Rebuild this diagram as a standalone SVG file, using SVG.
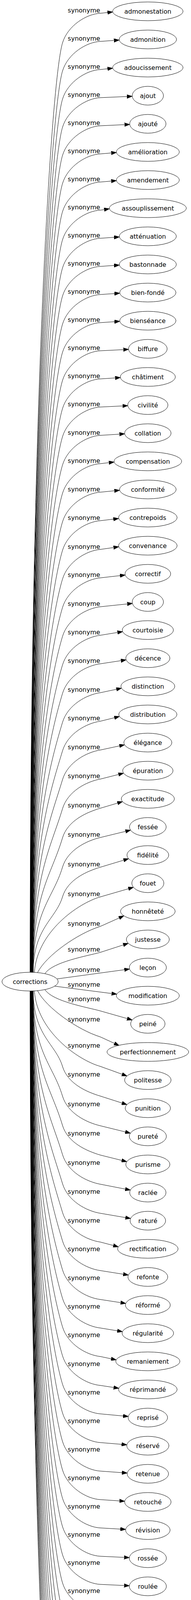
<svg xmlns="http://www.w3.org/2000/svg" width="489" height="5027" viewBox="0 0 489 5027">
<style>
text{font-family:"DejaVu Sans","Verdana",sans-serif;font-size:16px;fill:#000;text-anchor:middle}
.node ellipse{fill:#fff;stroke:#000;stroke-width:1}
.e path{fill:none;stroke:#000;stroke-width:1;marker-end:url(#a)}
</style>
<defs>
<marker id="a" markerWidth="15" markerHeight="11" refX="0" refY="4.67" orient="auto" markerUnits="userSpaceOnUse"><path d="M0,0 L13.3,4.67 L0,9.33 Z" fill="#000" stroke="#000" stroke-width="1"/></marker>
</defs>
<rect width="489" height="5027" fill="#fff"/>
<g id="connectors">
<g id="edges-top" class="e">
<path d="M77,2489 C77,1085 130,210 160,110 C173.5,65 222,35.5 257,34 L275.3,32"/>
<path d="M77.3,2489 C77.3,1128 130,282 160,182 C173.5,137 222,107.5 257,106 L291.7,103.5"/>
<path d="M77.5,2489 C77.5,1170 130,354 160,254 C173.5,209 222,179.5 257,178 L275.3,176"/>
<path d="M77.8,2489 C77.8,1213 130,426 160,326 C173.5,281 222,251.5 257,250 L325.2,247.1"/>
<path d="M78.1,2489 C78.1,1255 130,498 160,398 C173.5,353 222,323.5 257,322 L318.7,319.1"/>
<path d="M78.4,2489 C78.4,1298 130,570 160,470 C173.5,425 222,395.5 257,394 L284.7,391.6"/>
<path d="M78.6,2489 C78.6,1340 130,642 160,542 C173.5,497 222,467.5 257,466 L284.7,463.6"/>
<path d="M78.9,2489 C78.9,1383 130,714 160,614 C173.5,569 222,539.5 257,538 L266.8,536.5"/>
<path d="M79.2,2489 C79.2,1425 130,786 160,686 C173.5,641 222,611.5 257,610 L292.2,607.5"/>
<path d="M79.4,2489 C79.4,1468 130,858 160,758 C173.5,713 222,683.5 257,682 L292.2,679.5"/>
<path d="M79.7,2489 C79.7,1510 130,930 160,830 C173.5,785 222,755.5 257,754 L293.2,751.5"/>
<path d="M80,2489 C80,1553 130,1002 160,902 C173.5,857 222,827.5 257,826 L293.2,823.5"/>
<path d="M80.2,2489 C80.2,1595 130,1074 160,974 C173.5,929 222,899.5 257,898 L315.7,895.1"/>
<path d="M80.5,2489 C80.5,1638 130,1146 160,1046 C173.5,1001 222,971.5 257,970 L294.7,967.5"/>
<path d="M80.8,2489 C80.8,1680 130,1218 160,1118 C173.5,1073 222,1043.5 257,1042 L313.7,1039.2"/>
<path d="M81.1,2489 C81.1,1723 130,1290.5 160,1190.5 C173.5,1145.5 222,1116.1 257,1114.5 L305.7,1111.5"/>
<path d="M81.3,2489 C81.3,1766 130,1363 160,1263 C173.5,1218 222,1188.7 257,1187 L278.8,1184.4"/>
<path d="M81.6,2489 C81.6,1809 130,1436 160,1336 C173.5,1291 222,1262 257,1260 L292.8,1256.4"/>
<path d="M81.9,2489 C81.9,1852 130,1509 160,1409 C173.5,1364 222,1335.3 257,1333 L290.3,1329"/>
<path d="M82.1,2489 C82.1,1895 130,1582.5 160,1482.5 C173.5,1437.5 222,1409.3 257,1406.5 L290.8,1401.7"/>
<path d="M82.4,2489 C82.4,1938 130,1655.3 160,1555.3 C173.5,1510.3 222,1482.3 257,1479.3 L307.3,1473.6"/>
<path d="M82.7,2489 C82.7,1982 130,1729.3 160,1629.3 C173.5,1584.3 222,1556.9 257,1553.3 L325.8,1546.1"/>
<path d="M82.9,2489 C82.9,2025 130,1802.3 160,1702.3 C173.5,1657.3 222,1630.2 257,1626.3 L300.8,1619.1"/>
<path d="M83.2,2489 C83.2,2068 130,1875.3 160,1775.3 C173.5,1730.3 222,1703.4 257,1699.3 L309.7,1691.3"/>
<path d="M83.5,2489 C83.5,2112 130,1949.3 160,1849.3 C173.5,1804.3 222,1778 257,1773.3 L298,1764.6"/>
<path d="M83.8,2489 C83.8,2155 130,2022.3 160,1922.3 C173.5,1877.3 222,1851.3 257,1846.3 L292.9,1837.4"/>
<path d="M84,2489 C84,2198 130,2096 160,1996 C173.5,1951 222,1925.5 257,1920 L305.8,1909.5"/>
<path d="M84.3,2489 C84.3,2242 130,2170.4 160,2070.4 C173.5,2025.4 222,2000.6 257,1994.4 L303.4,1982.7"/>
<path d="M84.6,2489 C84.6,2286 130,2245 160,2145 C173.5,2100 223.4,2079 257,2069 L300.8,2056"/>
<path d="M84.8,2489 C84.8,2330 135.8,2300.7 160,2220 C173.5,2175 223,2152 257,2144 L321.4,2128.3"/>
<path d="M85.1,2489 C85.1,2375 142.6,2353.9 160,2296 C173.5,2251 223.5,2230 257,2220 L316.5,2202.1"/>
<path d="M88,2489.3 C95,2386 199,2312.6 257,2296 L328.8,2275.2"/>
<path d="M96,2490 C118,2446 200,2389 257,2371.5 L305,2350"/>
<path d="M115,2492.5 C135,2462 225,2447 257,2438 L315.7,2419"/>
<path d="M146,2506 L318.4,2482.5"/>
</g>
<g id="edges-middle-bottom" class="e">
<path d="M140,2524.6 L285.8,2543.4"/>
<path d="M115,2533.5 C135,2564 225,2579 257,2588 L325.6,2607.5"/>
<path d="M96,2536 C118,2580 200,2637 257,2654.5 L292.9,2671"/>
<path d="M88,2536.7 C95,2640 199,2713.4 257,2730 L312.5,2750"/>
</g>
<g id="edges-bottom" class="e" transform="matrix(1 0 0 -1 0 5026)">
<path d="M85.1,2489 C85.1,2375 142.6,2353.9 160,2296 C173.5,2251 223.5,2230 257,2220 L312.3,2202.3"/>
<path d="M84.8,2489 C84.8,2330 135.8,2300.7 160,2220 C173.5,2175 223,2152 257,2144 L320.9,2128.3"/>
<path d="M84.6,2489 C84.6,2286 130,2245 160,2145 C173.5,2100 223.4,2079 257,2069 L311.7,2055.4"/>
<path d="M84.3,2489 C84.3,2242 130,2170.4 160,2070.4 C173.5,2025.4 222,2000.6 257,1994.4 L320.7,1982"/>
<path d="M84,2489 C84,2198 130,2096 160,1996 C173.5,1951 222,1925.5 257,1920 L321.2,1909"/>
<path d="M83.8,2489 C83.8,2155 130,2022.3 160,1922.3 C173.5,1877.3 222,1851.3 257,1846.3 L290.1,1837.6"/>
<path d="M83.5,2489 C83.5,2112 130,1949.3 160,1849.3 C173.5,1804.3 222,1778 257,1773.3 L315.5,1764"/>
<path d="M83.2,2489 C83.2,2068 130,1875.3 160,1775.3 C173.5,1730.3 222,1703.4 257,1699.3 L308.8,1691.3"/>
<path d="M82.9,2489 C82.9,2025 130,1802.3 160,1702.3 C173.5,1657.3 222,1630.2 257,1626.3 L300.3,1619.2"/>
<path d="M82.7,2489 C82.7,1982 130,1729.3 160,1629.3 C173.5,1584.3 222,1556.9 257,1553.3 L284.5,1547.5"/>
<path d="M82.4,2489 C82.4,1938 130,1655.3 160,1555.3 C173.5,1510.3 222,1482.3 257,1479.3 L291,1474.1"/>
<path d="M82.1,2489 C82.1,1895 130,1582.5 160,1482.5 C173.5,1437.5 222,1409.3 257,1406.5 L315.2,1401.1"/>
<path d="M81.9,2489 C81.9,1852 130,1509 160,1409 C173.5,1364 222,1335.3 257,1333 L311.4,1328.5"/>
<path d="M81.6,2489 C81.6,1809 130,1436 160,1336 C173.5,1291 222,1262 257,1260 L312.3,1256"/>
<path d="M81.3,2489 C81.3,1766 130,1363 160,1263 C173.5,1218 222,1188.7 257,1187 L305.8,1183.7"/>
<path d="M81.1,2489 C81.1,1723 130,1290.5 160,1190.5 C173.5,1145.5 222,1116.1 257,1114.5 L308.3,1111.5"/>
<path d="M80.8,2489 C80.8,1680 130,1218 160,1118 C173.5,1073 222,1043.5 257,1042 L317.7,1039.1"/>
<path d="M80.5,2489 C80.5,1638 130,1146 160,1046 C173.5,1001 222,971.5 257,970 L317.7,967.1"/>
<path d="M80.2,2489 C80.2,1595 130,1074 160,974 C173.5,929 222,899.5 257,898 L315.2,895.1"/>
<path d="M80,2489 C80,1553 130,1002 160,902 C173.5,857 222,827.5 257,826 L288.2,823.5"/>
<path d="M79.7,2489 C79.7,1510 130,930 160,830 C173.5,785 222,755.5 257,754 L305.7,751.3"/>
<path d="M79.4,2489 C79.4,1468 130,858 160,758 C173.5,713 222,683.5 257,682 L306.7,679.3"/>
<path d="M79.2,2489 C79.2,1425 130,786 160,686 C173.5,641 222,611.5 257,610 L299.2,607.4"/>
<path d="M78.9,2489 C78.9,1383 130,714 160,614 C173.5,569 222,539.5 257,538 L282.3,535.7"/>
<path d="M78.6,2489 C78.6,1340 130,642 160,542 C173.5,497 222,467.5 257,466 L321.2,463.1"/>
<path d="M78.4,2489 C78.4,1298 130,570 160,470 C173.5,425 222,395.5 257,394 L311.2,391.2"/>
<path d="M78.1,2489 C78.1,1255 130,498 160,398 C173.5,353 222,323.5 257,322 L307.2,319.2"/>
<path d="M77.8,2489 C77.8,1213 130,426 160,326 C173.5,281 222,251.5 257,250 L289.7,247.5"/>
<path d="M77.5,2489 C77.5,1170 130,354 160,254 C173.5,209 222,179.5 257,178 L289.7,175.5"/>
<path d="M77.3,2489 C77.3,1128 130,282 160,182 C173.5,137 222,107.5 257,106 L321.7,103.1"/>
<path d="M77,2489 C77,1085 130,210 160,110 C173.5,65 222,35.5 257,34 L301.2,31.3"/>
</g>
<g id="edge-labels">
<text x="215" y="32">synonyme</text>
<text x="215" y="104">synonyme</text>
<text x="215" y="176">synonyme</text>
<text x="215" y="248">synonyme</text>
<text x="215" y="320">synonyme</text>
<text x="215" y="392">synonyme</text>
<text x="215" y="464">synonyme</text>
<text x="215" y="536">synonyme</text>
<text x="215" y="608">synonyme</text>
<text x="215" y="680">synonyme</text>
<text x="215" y="752">synonyme</text>
<text x="215" y="824">synonyme</text>
<text x="215" y="896">synonyme</text>
<text x="215" y="968">synonyme</text>
<text x="215" y="1040">synonyme</text>
<text x="215" y="1112.5">synonyme</text>
<text x="215" y="1185">synonyme</text>
<text x="215" y="1258">synonyme</text>
<text x="215" y="1331">synonyme</text>
<text x="215" y="1404.5">synonyme</text>
<text x="215" y="1477.3">synonyme</text>
<text x="215" y="1551.3">synonyme</text>
<text x="215" y="1624.3">synonyme</text>
<text x="215" y="1697.3">synonyme</text>
<text x="215" y="1771.3">synonyme</text>
<text x="215" y="1844.3">synonyme</text>
<text x="215" y="1918">synonyme</text>
<text x="215" y="1992.4">synonyme</text>
<text x="215" y="2067">synonyme</text>
<text x="215" y="2142">synonyme</text>
<text x="215" y="2218">synonyme</text>
<text x="215" y="2294">synonyme</text>
<text x="215" y="2369.5">synonyme</text>
<text x="215" y="2436">synonyme</text>
<text x="215" y="2488">synonyme</text>
<text x="215" y="2526">synonyme</text>
<text x="215" y="2563">synonyme</text>
<text x="215" y="2615">synonyme</text>
<text x="215" y="2682">synonyme</text>
<text x="215" y="2756">synonyme</text>
<text x="215" y="2832">synonyme</text>
<text x="215" y="2907">synonyme</text>
<text x="215" y="2981.6">synonyme</text>
<text x="215" y="3056">synonyme</text>
<text x="215" y="3129.7">synonyme</text>
<text x="215" y="3202.7">synonyme</text>
<text x="215" y="3276.7">synonyme</text>
<text x="215" y="3349.7">synonyme</text>
<text x="215" y="3422.7">synonyme</text>
<text x="215" y="3496.7">synonyme</text>
<text x="215" y="3569.5">synonyme</text>
<text x="215" y="3643">synonyme</text>
<text x="215" y="3716">synonyme</text>
<text x="215" y="3789">synonyme</text>
<text x="215" y="3861.5">synonyme</text>
<text x="215" y="3934">synonyme</text>
<text x="215" y="4006">synonyme</text>
<text x="215" y="4078">synonyme</text>
<text x="215" y="4150">synonyme</text>
<text x="215" y="4222">synonyme</text>
<text x="215" y="4294">synonyme</text>
<text x="215" y="4366">synonyme</text>
<text x="215" y="4438">synonyme</text>
<text x="215" y="4510">synonyme</text>
<text x="215" y="4582">synonyme</text>
<text x="215" y="4654">synonyme</text>
<text x="215" y="4726">synonyme</text>
<text x="215" y="4798">synonyme</text>
<text x="215" y="4870">synonyme</text>
<text x="215" y="4942">synonyme</text>
</g>
</g>
<g id="nodes">
<g class="node" id="n0"><ellipse cx="77" cy="2513" rx="72" ry="24"/><text x="77" y="2519">corrections</text></g>
<g class="node" id="n1"><ellipse cx="378.5" cy="29" rx="90" ry="24"/><text x="378.5" y="35">admonestation</text></g>
<g class="node" id="n2"><ellipse cx="378.5" cy="101" rx="73.5" ry="24"/><text x="378.5" y="107">admonition</text></g>
<g class="node" id="n3"><ellipse cx="378.5" cy="173" rx="90" ry="24"/><text x="378.5" y="179">adoucissement</text></g>
<g class="node" id="n4"><ellipse cx="378.5" cy="245" rx="40" ry="24"/><text x="378.5" y="251">ajout</text></g>
<g class="node" id="n5"><ellipse cx="378.5" cy="317" rx="46.5" ry="24"/><text x="378.5" y="323">ajouté</text></g>
<g class="node" id="n6"><ellipse cx="378.5" cy="389" rx="80.5" ry="24"/><text x="378.5" y="395">amélioration</text></g>
<g class="node" id="n7"><ellipse cx="378.5" cy="461" rx="80.5" ry="24"/><text x="378.5" y="467">amendement</text></g>
<g class="node" id="n8"><ellipse cx="378.5" cy="533" rx="98.5" ry="24"/><text x="378.5" y="539">assouplissement</text></g>
<g class="node" id="n9"><ellipse cx="378.5" cy="605" rx="73" ry="24"/><text x="378.5" y="611">atténuation</text></g>
<g class="node" id="n10"><ellipse cx="378.5" cy="677" rx="73" ry="24"/><text x="378.5" y="683">bastonnade</text></g>
<g class="node" id="n11"><ellipse cx="378.5" cy="749" rx="72" ry="24"/><text x="378.5" y="755">bien-fondé</text></g>
<g class="node" id="n12"><ellipse cx="378.5" cy="821" rx="72" ry="24"/><text x="378.5" y="827">bienséance</text></g>
<g class="node" id="n13"><ellipse cx="378.5" cy="893" rx="49.5" ry="24"/><text x="378.5" y="899">biffure</text></g>
<g class="node" id="n14"><ellipse cx="378.5" cy="965" rx="70.5" ry="24"/><text x="378.5" y="971">châtiment</text></g>
<g class="node" id="n15"><ellipse cx="378.5" cy="1037" rx="51.5" ry="24"/><text x="378.5" y="1043">civilité</text></g>
<g class="node" id="n16"><ellipse cx="378.5" cy="1109" rx="59.5" ry="24"/><text x="378.5" y="1115">collation</text></g>
<g class="node" id="n17"><ellipse cx="378.5" cy="1181" rx="86.5" ry="24"/><text x="378.5" y="1187">compensation</text></g>
<g class="node" id="n18"><ellipse cx="378.5" cy="1253" rx="72.5" ry="24"/><text x="378.5" y="1259">conformité</text></g>
<g class="node" id="n19"><ellipse cx="378.5" cy="1325" rx="75" ry="24"/><text x="378.5" y="1331">contrepoids</text></g>
<g class="node" id="n20"><ellipse cx="378.5" cy="1397" rx="75" ry="24"/><text x="378.5" y="1403">convenance</text></g>
<g class="node" id="n21"><ellipse cx="378.5" cy="1469" rx="58.5" ry="24"/><text x="378.5" y="1475">correctif</text></g>
<g class="node" id="n22"><ellipse cx="378.5" cy="1541" rx="40" ry="24"/><text x="378.5" y="1547">coup</text></g>
<g class="node" id="n23"><ellipse cx="378.5" cy="1613" rx="65.5" ry="24"/><text x="378.5" y="1619">courtoisie</text></g>
<g class="node" id="n24"><ellipse cx="378.5" cy="1685" rx="56.5" ry="24"/><text x="378.5" y="1691">décence</text></g>
<g class="node" id="n25"><ellipse cx="378.5" cy="1757" rx="69" ry="24"/><text x="378.5" y="1763">distinction</text></g>
<g class="node" id="n26"><ellipse cx="378.5" cy="1829" rx="74.5" ry="24"/><text x="378.5" y="1835">distribution</text></g>
<g class="node" id="n27"><ellipse cx="378.5" cy="1901" rx="61.5" ry="24"/><text x="378.5" y="1907">élégance</text></g>
<g class="node" id="n28"><ellipse cx="378.5" cy="1973" rx="64.5" ry="24"/><text x="378.5" y="1979">épuration</text></g>
<g class="node" id="n29"><ellipse cx="378.5" cy="2045" rx="68" ry="24"/><text x="378.5" y="2051">exactitude</text></g>
<g class="node" id="n30"><ellipse cx="378.5" cy="2117" rx="47" ry="24"/><text x="378.5" y="2123">fessée</text></g>
<g class="node" id="n31"><ellipse cx="378.5" cy="2189" rx="53.5" ry="24"/><text x="378.5" y="2195">fidélité</text></g>
<g class="node" id="n32"><ellipse cx="378.5" cy="2261" rx="41" ry="24"/><text x="378.5" y="2267">fouet</text></g>
<g class="node" id="n33"><ellipse cx="378.5" cy="2333" rx="70" ry="24"/><text x="378.5" y="2339">honnêteté</text></g>
<g class="node" id="n34"><ellipse cx="378.5" cy="2405" rx="55" ry="24"/><text x="378.5" y="2411">justesse</text></g>
<g class="node" id="n35"><ellipse cx="378.5" cy="2477" rx="47.5" ry="24"/><text x="378.5" y="2483">leçon</text></g>
<g class="node" id="n36"><ellipse cx="378.5" cy="2549" rx="80.5" ry="24"/><text x="378.5" y="2555">modification</text></g>
<g class="node" id="n37"><ellipse cx="378.5" cy="2621" rx="44" ry="24"/><text x="378.5" y="2627">peiné</text></g>
<g class="node" id="n38"><ellipse cx="378.5" cy="2693" rx="104.5" ry="24"/><text x="378.5" y="2699">perfectionnement</text></g>
<g class="node" id="n39"><ellipse cx="378.5" cy="2765" rx="59.5" ry="24"/><text x="378.5" y="2771">politesse</text></g>
<g class="node" id="n40"><ellipse cx="378.5" cy="2837" rx="58" ry="24"/><text x="378.5" y="2843">punition</text></g>
<g class="node" id="n41"><ellipse cx="378.5" cy="2909" rx="47.5" ry="24"/><text x="378.5" y="2915">pureté</text></g>
<g class="node" id="n42"><ellipse cx="378.5" cy="2981" rx="56.5" ry="24"/><text x="378.5" y="2987">purisme</text></g>
<g class="node" id="n43"><ellipse cx="378.5" cy="3053" rx="46.5" ry="24"/><text x="378.5" y="3059">raclée</text></g>
<g class="node" id="n44"><ellipse cx="378.5" cy="3125" rx="45.5" ry="24"/><text x="378.5" y="3131">raturé</text></g>
<g class="node" id="n45"><ellipse cx="378.5" cy="3197" rx="77.5" ry="24"/><text x="378.5" y="3203">rectification</text></g>
<g class="node" id="n46"><ellipse cx="378.5" cy="3269" rx="51" ry="24"/><text x="378.5" y="3275">refonte</text></g>
<g class="node" id="n47"><ellipse cx="378.5" cy="3341" rx="57.5" ry="24"/><text x="378.5" y="3347">réformé</text></g>
<g class="node" id="n48"><ellipse cx="378.5" cy="3413" rx="66" ry="24"/><text x="378.5" y="3419">régularité</text></g>
<g class="node" id="n49"><ellipse cx="378.5" cy="3485" rx="82" ry="24"/><text x="378.5" y="3491">remaniement</text></g>
<g class="node" id="n50"><ellipse cx="378.5" cy="3557" rx="75" ry="24"/><text x="378.5" y="3563">réprimandé</text></g>
<g class="node" id="n51"><ellipse cx="378.5" cy="3629" rx="50.5" ry="24"/><text x="378.5" y="3635">reprisé</text></g>
<g class="node" id="n52"><ellipse cx="378.5" cy="3701" rx="54" ry="24"/><text x="378.5" y="3707">réservé</text></g>
<g class="node" id="n53"><ellipse cx="378.5" cy="3773" rx="53" ry="24"/><text x="378.5" y="3779">retenue</text></g>
<g class="node" id="n54"><ellipse cx="378.5" cy="3845" rx="59.5" ry="24"/><text x="378.5" y="3851">retouché</text></g>
<g class="node" id="n55"><ellipse cx="378.5" cy="3917" rx="57" ry="24"/><text x="378.5" y="3923">révision</text></g>
<g class="node" id="n56"><ellipse cx="378.5" cy="3989" rx="47.5" ry="24"/><text x="378.5" y="3995">rossée</text></g>
<g class="node" id="n57"><ellipse cx="378.5" cy="4061" rx="47.5" ry="24"/><text x="378.5" y="4067">roulée</text></g>
<g class="node" id="n58"><ellipse cx="378.5" cy="4133" rx="50" ry="24"/><text x="378.5" y="4139">saucée</text></g>
<g class="node" id="n59"><ellipse cx="378.5" cy="4205" rx="77" ry="24"/><text x="378.5" y="4211">savoir-vivre</text></g>
<g class="node" id="n60"><ellipse cx="378.5" cy="4277" rx="59.5" ry="24"/><text x="378.5" y="4283">schlague</text></g>
<g class="node" id="n61"><ellipse cx="378.5" cy="4349" rx="58.5" ry="24"/><text x="378.5" y="4355">scrupule</text></g>
<g class="node" id="n62"><ellipse cx="378.5" cy="4421" rx="66" ry="24"/><text x="378.5" y="4427">surchargé</text></g>
<g class="node" id="n63"><ellipse cx="378.5" cy="4493" rx="83" ry="24"/><text x="378.5" y="4499">tempérament</text></g>
<g class="node" id="n64"><ellipse cx="378.5" cy="4565" rx="44" ry="24"/><text x="378.5" y="4571">ténue</text></g>
<g class="node" id="n65"><ellipse cx="378.5" cy="4637" rx="54" ry="24"/><text x="378.5" y="4643">torchée</text></g>
<g class="node" id="n66"><ellipse cx="378.5" cy="4709" rx="58" ry="24"/><text x="378.5" y="4715">torgnole</text></g>
<g class="node" id="n67"><ellipse cx="378.5" cy="4781" rx="75.5" ry="24"/><text x="378.5" y="4787">vérification</text></g>
<g class="node" id="n68"><ellipse cx="378.5" cy="4853" rx="75.5" ry="24"/><text x="378.5" y="4859">vocabulaire</text></g>
<g class="node" id="n69"><ellipse cx="378.5" cy="4925" rx="43.5" ry="24"/><text x="378.5" y="4931">volée</text></g>
<g class="node" id="n70"><ellipse cx="378.5" cy="4997" rx="64" ry="24"/><text x="378.5" y="5003">trépignée</text></g>
</g>
</svg>
